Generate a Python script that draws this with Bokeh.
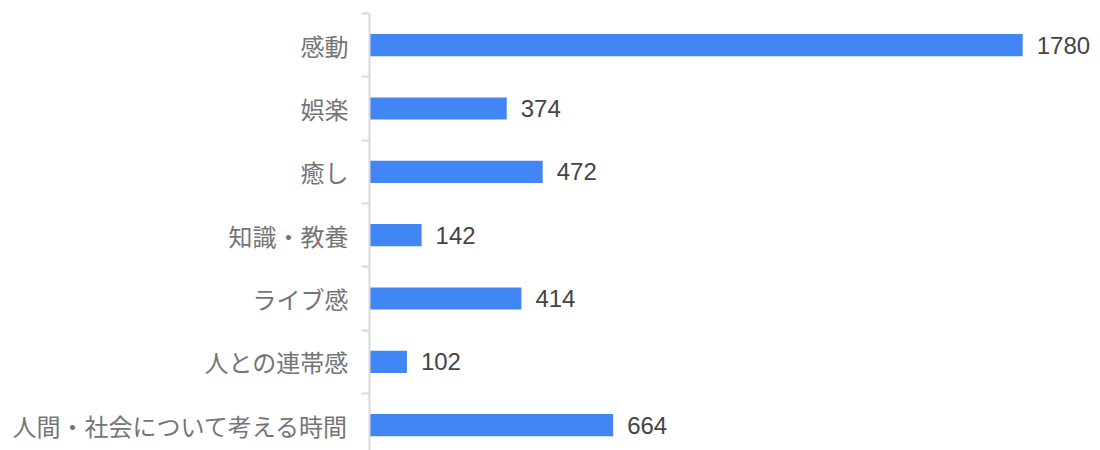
from bokeh.plotting import figure
from bokeh.models import Range1d, FixedTicker, ColumnDataSource, LabelSet
from bokeh.core.properties import value
from bokeh.embed import file_html
from bokeh.resources import INLINE

categories = ["感動", "娯楽", "癒し", "知識・教養", "ライブ感", "人との連帯感", "人間・社会について考える時間"]
values = [1780, 374, 472, 142, 414, 102, 664]

ypos = list(range(len(categories)))
labels = [str(v) for v in values]
src = ColumnDataSource(dict(y=ypos, v=values, lab=labels))

p = figure(width=1100, height=450, output_backend="svg", toolbar_location=None,
           x_range=Range1d(0, 1992), y_range=Range1d(6.40, -0.5),
           x_axis_location=None, min_border_left=369, min_border_right=0,
           min_border_top=13, min_border_bottom=0)
p.outline_line_color = None
p.xgrid.visible = False
p.ygrid.visible = False
p.background_fill_color = "white"

p.hbar(y="y", right="v", left=0, height=0.35, source=src,
       fill_color="#4285F4", line_color=None)

labs = LabelSet(x="v", y="y", text="lab", source=src, x_offset=14, y_offset=0,
                text_baseline="middle", text_align="left",
                text_font=value("Liberation Sans"), text_font_size="24px", text_color="#444444")
p.add_layout(labs)

ax = p.yaxis[0]
ax.ticker = FixedTicker(ticks=ypos, minor_ticks=[i - 0.5 for i in range(len(categories) + 1)])
ax.major_label_overrides = {i: c for i, c in enumerate(categories)}
ax.major_label_text_font = "Noto Sans CJK JP"
ax.major_label_text_font_size = "24px"
ax.major_label_text_color = "#757575"
ax.major_label_standoff = 13
ax.major_tick_line_color = None
ax.minor_tick_line_color = "#d9d9d9"
ax.minor_tick_line_width = 2
ax.minor_tick_out = 8
ax.minor_tick_in = 0
ax.axis_line_color = "#d9d9d9"
ax.axis_line_width = 2

open("out.html", "w").write(file_html(p, INLINE))
